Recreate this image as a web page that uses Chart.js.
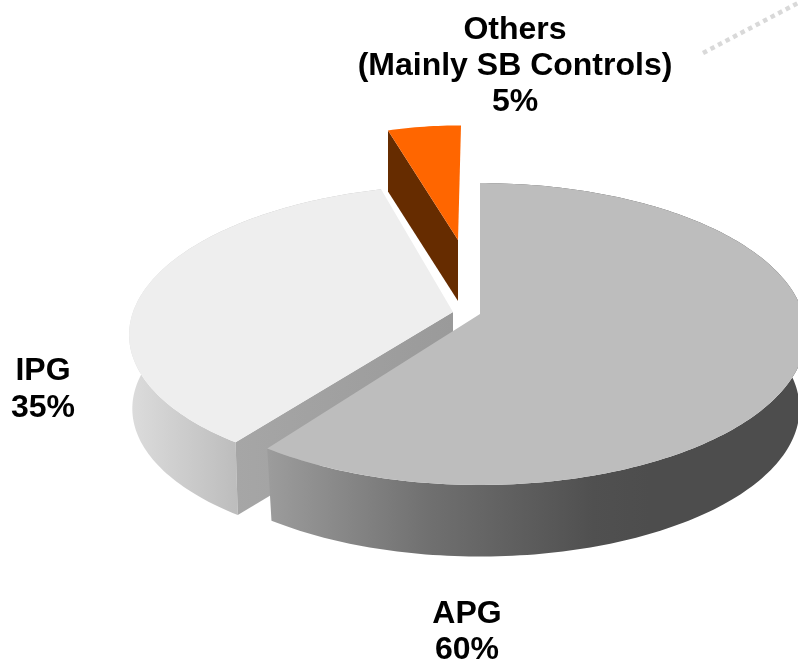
<!DOCTYPE html>
<html>
<head>
<meta charset="utf-8">
<script src="https://cdn.jsdelivr.net/npm/chart.js@4"></script>
<style>
  html, body { margin: 0; padding: 0; background: #fff; }
  canvas { display: block; }
</style>
</head>
<body>
<canvas id="chart" width="798" height="660"></canvas>
<script>
// data
const categories = ['APG', 'IPG', 'Others'];
const subLabels = ['', '', '(Mainly SB Controls)'];
const shares = [60, 35, 5];

// top face colours, the side walls are set where they are painted
const topColors = ['#bdbdbd', '#eeeeee', '#ff6600'];

// where each wedge sits (tip on screen, depth of wall, little per slice fitting)
const wedgeFit = [
  { x: 480, y: 314, depth: 75, sx: 1.01, sy: 1, skew: 0, endNudge: 0, low: 0.98 },
  { x: 453, y: 312, depth: 74, sx: 1, sy: 0.97, skew: -0.05, endNudge: 2, low: 0.99 },
  { x: 458, y: 240, depth: 61, sx: 0.83, sy: 0.875, skew: -0.023, endNudge: 0, low: 1 }
];

// perspective of the tilted disc
const RX = 320, RY = 148.3, K = 0.1325;

function project(fit, angle, bottom) {
  const X = Math.cos(angle), Y = Math.sin(angle);
  const w = 1 - K * Y;
  const s = bottom ? fit.low : 1;
  const px = RX * s * X / w;
  const py = RY * s * Y / w;
  return {
    x: fit.x + fit.sx * px + fit.skew * py,
    y: fit.y + fit.sy * py + (bottom ? fit.depth : 0)
  };
}

function arcPoints(fit, start, end, bottom) {
  const pts = [];
  const steps = Math.max(4, Math.ceil((end - start) / 0.02));
  for (let i = 0; i <= steps; i++) {
    pts.push(project(fit, start + (end - start) * i / steps, bottom));
  }
  return pts;
}

function fillPoly(ctx, pts, fill) {
  ctx.beginPath();
  pts.forEach((p, i) => i ? ctx.lineTo(p.x, p.y) : ctx.moveTo(p.x, p.y));
  ctx.closePath();
  ctx.fillStyle = fill;
  ctx.fill();
}

function hGradient(ctx, x0, x1, stops) {
  const g = ctx.createLinearGradient(x0, 0, x1, 0);
  stops.forEach(s => g.addColorStop(s[0], s[1]));
  return g;
}

const pie3d = {
  id: 'pie3d',
  // the library lays out the arcs, this only paints them tilted
  beforeDatasetsDraw(chart) {
    const ctx = chart.ctx;
    const arcs = chart.getDatasetMeta(0).data;
    const nudge = i => wedgeFit[i].endNudge * Math.PI / 180;

    // Others first, it floats at the back
    const o = arcs[2], oFit = wedgeFit[2];
    const oTip = { x: oFit.x, y: oFit.y };
    const oCorner = project(oFit, o.startAngle, false);
    fillPoly(ctx, [oCorner, oTip, { x: oTip.x, y: oTip.y + oFit.depth },
      { x: oCorner.x, y: oCorner.y + oFit.depth }], '#662c00');
    fillPoly(ctx, [oTip].concat(arcPoints(oFit, o.startAngle, o.endAngle, false)), topColors[2]);

    // IPG
    const b = arcs[1], bFit = wedgeFit[1];
    const bEnd = b.endAngle + nudge(1);
    const bTop = arcPoints(bFit, b.startAngle, bEnd, false);
    const bLow = arcPoints(bFit, b.startAngle, bEnd, true);
    fillPoly(ctx, bTop.concat(bLow.reverse()),
      hGradient(ctx, 130, 240, [[0, '#dcdcdc'], [1, '#bcbcbc']]));
    const bCorner = project(bFit, b.startAngle, false);
    const bCornerLow = project(bFit, b.startAngle, true);
    fillPoly(ctx, [bCorner, { x: bFit.x, y: bFit.y }, { x: bFit.x, y: bFit.y + bFit.depth }, bCornerLow],
      hGradient(ctx, 236, 453, [[0, '#a6a6a6'], [1, '#9a9a9a']]));
    fillPoly(ctx, [{ x: bFit.x, y: bFit.y }].concat(arcPoints(bFit, b.startAngle, bEnd, false)), topColors[1]);

    // APG on top of everything
    const a = arcs[0], aFit = wedgeFit[0];
    const aTop = arcPoints(aFit, a.startAngle, a.endAngle, false);
    const aLow = arcPoints(aFit, a.startAngle, a.endAngle, true);
    fillPoly(ctx, aTop.concat(aLow.reverse()),
      hGradient(ctx, 268, 650, [[0, '#9c9c9c'], [0.42, '#707070'], [0.85, '#505050'], [1, '#4d4d4d']]));
    fillPoly(ctx, [{ x: aFit.x, y: aFit.y }].concat(aTop), topColors[0]);

    return false;
  },
  afterDraw(chart) {
    const ctx = chart.ctx;
    ctx.save();
    // dotted leader coming in from the corner
    ctx.beginPath();
    ctx.moveTo(703, 53);
    ctx.lineTo(798, 3);
    ctx.strokeStyle = '#d9d9d9';
    ctx.lineWidth = 4.5;
    ctx.setLineDash([4.5, 4]);
    ctx.stroke();
    ctx.setLineDash([]);

    ctx.fillStyle = '#000';
    ctx.font = 'bold 32px "Liberation Sans", Arial, sans-serif';
    ctx.textAlign = 'center';
    ctx.textBaseline = 'middle';
    ctx.fillText(categories[2], 515, 30);
    ctx.fillText(subLabels[2], 515, 66);
    ctx.fillText(shares[2] + '%', 515, 102);
    ctx.fillText(categories[1], 43, 371);
    ctx.fillText(shares[1] + '%', 43, 408);
    ctx.fillText(categories[0], 467, 614);
    ctx.fillText(shares[0] + '%', 467, 650);
    ctx.restore();
  }
};

new Chart(document.getElementById('chart').getContext('2d'), {
  type: 'pie',
  data: {
    labels: categories,
    datasets: [{ data: shares, backgroundColor: topColors, borderWidth: 0 }]
  },
  options: {
    responsive: false,
    animation: false,
    plugins: { legend: { display: false }, tooltip: { enabled: false } }
  },
  plugins: [pie3d]
});
</script>
</body>
</html>
